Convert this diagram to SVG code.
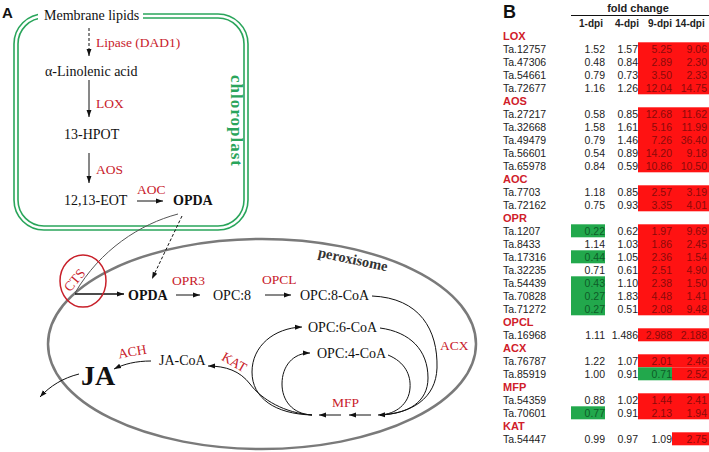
<svg xmlns="http://www.w3.org/2000/svg" width="709" height="452" viewBox="0 0 709 452">
<style>
.s{font-family:"Liberation Serif","DejaVu Serif",serif;fill:#111;font-size:14px}
.r{font-family:"Liberation Serif","DejaVu Serif",serif;fill:#c8202a;font-size:13.5px}
.b{font-weight:bold}
.ln{fill:none;stroke:#111;stroke-width:1}
.t{font-family:"Liberation Sans",Arial,sans-serif;font-size:10.5px;fill:#222}
.v{font-family:"Liberation Sans",Arial,sans-serif;font-size:10.5px;fill:#222;text-anchor:end}
.vr{fill:#8b0a0a}
.vg{fill:#0e5c28}
.h{font-family:"Liberation Sans",Arial,sans-serif;font-size:11px;font-weight:bold;fill:#d0202a}
.ch{font-family:"Liberation Sans",Arial,sans-serif;font-size:10px;font-weight:bold;fill:#222;text-anchor:middle}
.red{fill:#ff1212}
.grn{fill:#22a84c}
</style>
<defs>
<marker id="ah" viewBox="0 0 10 10" refX="10" refY="5" markerWidth="7" markerHeight="7" orient="auto" markerUnits="userSpaceOnUse"><path d="M0,1.5 L10,5 L0,8.5 z" fill="#111"/></marker>
</defs>
<rect width="709" height="452" fill="#fff"/>

<!-- Panel A -->
<text x="2" y="18" style="font-family:'Liberation Sans',Arial,sans-serif;font-weight:bold;font-size:15px;fill:#111">A</text>

<g id="chloroplast">
<rect x="14" y="14" width="234" height="216" rx="30" fill="none" stroke="#2aa55b" stroke-width="1.6"/>
<rect x="18" y="18" width="226" height="208" rx="26" fill="none" stroke="#2aa55b" stroke-width="1.6"/>
<rect x="38" y="6" width="105" height="18" fill="#fff"/>
<text transform="translate(231,121) rotate(90)" text-anchor="middle" style="font-family:'Liberation Serif','DejaVu Serif',serif;font-weight:bold;font-size:17px;letter-spacing:1px;fill:#2aa55b">chloroplast</text>
</g>

<g id="peroxisome">
<ellipse cx="262" cy="344" rx="214" ry="105" fill="none" stroke="#7a7a7a" stroke-width="2.5"/>
<text transform="translate(352,264) rotate(12)" text-anchor="middle" style="font-family:'Liberation Serif','DejaVu Serif',serif;font-weight:bold;font-size:14.5px;fill:#333">peroxisome</text>
</g>

<g id="connectors">
<path class="ln" d="M89,28 L89,56" stroke-dasharray="3,2" marker-end="url(#ah)"/>
<path class="ln" d="M89,80 L89,117" marker-end="url(#ah)"/>
<path class="ln" d="M89,153 L89,183" marker-end="url(#ah)"/>
<path class="ln" d="M137,201 L163,201" marker-end="url(#ah)"/>
<path d="M178,214 C140,224 100,250 75,293" fill="none" stroke="#555" stroke-width="1"/>
<path class="ln" d="M182,216 L152,279" stroke-dasharray="3,2" marker-end="url(#ah)"/>
<path class="ln" d="M75,294 L124,294" style="stroke-width:1.5" marker-end="url(#ah)"/>
<path class="ln" d="M176,295 L200,295" marker-end="url(#ah)"/>
<path class="ln" d="M265,295 L291,295" marker-end="url(#ah)"/>
<path class="ln" d="M372,296 C420,298 438,330 437,368 C436,398 412,414 378,415" marker-end="url(#ah)"/>
<path class="ln" d="M380,328 C410,332 428,350 428,378 C428,402 408,414 380,415"/>
<path class="ln" d="M388,355 C405,362 411,375 410,388 C409,404 396,414 380,415"/>
<path class="ln" d="M371,415 L349,415" marker-end="url(#ah)"/>
<path class="ln" d="M341,415 L319,415" marker-end="url(#ah)"/>
<path class="ln" d="M312,415 C275,414 252,398 252,372 C252,346 274,328 302,327" marker-end="url(#ah)"/>
<path class="ln" d="M312,415 C292,414 282,400 282,384 C282,366 293,353 310,353" marker-end="url(#ah)"/>
<path class="ln" d="M312,415 C285,413 262,400 250,384 C240,371 226,366 208,366" marker-end="url(#ah)"/>
<path class="ln" d="M151,361 C136,361 124,364 114,369" marker-end="url(#ah)"/>
<path class="ln" d="M79,374 C63,378 50,386 40,397" marker-end="url(#ah)"/>
</g>

<g id="membrane-lipids"><text class="s" x="44" y="20">Membrane lipids</text></g>
<g id="lipase"><text class="r" x="96" y="47">Lipase (DAD1)</text></g>
<g id="linolenic"><text class="s" x="45" y="76">α-Linolenic acid</text></g>
<g id="lox"><text class="r" x="96" y="108">LOX</text></g>
<g id="hpot"><text class="s" x="64" y="139">13-HPOT</text></g>
<g id="aos"><text class="r" x="96" y="174">AOS</text></g>
<g id="eot"><text class="s" x="64" y="205">12,13-EOT</text></g>
<g id="aoc"><text class="r" x="137" y="194">AOC</text></g>
<g id="opda1"><text class="s b" x="173" y="205">OPDA</text></g>

<g id="cts">
<ellipse cx="83" cy="281" rx="23" ry="26" fill="none" stroke="#c8202a" stroke-width="1.5"/>
<text class="r" transform="translate(78,283) rotate(-50)" text-anchor="middle">CTS</text>
</g>
<g id="opda2"><text class="s b" x="128" y="300">OPDA</text></g>
<g id="opr3"><text class="r" x="172" y="285">OPR3</text></g>
<g id="opc8"><text class="s" x="213" y="300">OPC:8</text></g>
<g id="opcl"><text class="r" x="262" y="284">OPCL</text></g>
<g id="opc8coa"><text class="s" x="300" y="300">OPC:8-CoA</text></g>
<g id="opc6coa"><text class="s" x="308" y="332">OPC:6-CoA</text></g>
<g id="opc4coa"><text class="s" x="317" y="358">OPC:4-CoA</text></g>
<g id="acx"><text class="r" x="440" y="350">ACX</text></g>
<g id="mfp"><text class="r" x="332" y="407">MFP</text></g>
<g id="kat"><text class="r" transform="translate(232,366) rotate(30)" text-anchor="middle">KAT</text></g>
<g id="jacoa"><text class="s" x="159" y="365">JA-CoA</text></g>
<g id="ach"><text class="r" transform="translate(133,356) rotate(-10)" text-anchor="middle">ACH</text></g>
<g id="ja"><text class="s b" x="81" y="385" style="font-size:28px">JA</text></g>

<!-- Panel B -->
<g id="table">
<text x="503" y="18" style="font-family:'Liberation Sans',Arial,sans-serif;font-weight:bold;font-size:18px;fill:#111">B</text>
<text x="638" y="12" text-anchor="middle" style="font-family:'Liberation Sans',Arial,sans-serif;font-weight:bold;font-size:11px;fill:#222">fold change</text>
<line x1="571" y1="15.5" x2="709" y2="15.5" stroke="#111" stroke-width="1.2"/>
<text class="ch" x="591" y="27">1-dpi</text>
<text class="ch" x="627" y="27">4-dpi</text>
<text class="ch" x="660" y="27">9-dpi</text>
<text class="ch" x="690" y="27">14-dpi</text>

<rect class="red" x="638" y="42.3" width="71" height="52"/>
<rect class="red" x="638" y="107.3" width="71" height="65"/>
<rect class="red" x="638" y="185.3" width="71" height="26"/>
<rect class="red" x="638" y="224.3" width="71" height="91"/>
<rect class="red" x="638" y="328.3" width="71" height="13"/>
<rect class="red" x="638" y="354.3" width="71" height="13"/>
<rect class="red" x="672" y="367.3" width="37" height="13"/>
<rect class="red" x="638" y="393.3" width="71" height="26"/>
<rect class="red" x="672" y="432.3" width="37" height="13"/>
<rect class="grn" x="571" y="224.3" width="34" height="13"/>
<rect class="grn" x="571" y="250.3" width="34" height="13"/>
<rect class="grn" x="571" y="276.3" width="34" height="39"/>
<rect class="grn" x="571" y="406.3" width="34" height="13"/>
<rect class="grn" x="638" y="367.3" width="34" height="13"/>

<text class="h" x="503" y="39.8">LOX</text>
<text class="t" x="503" y="52.6">Ta.12757</text><text class="v" x="605" y="52.6">1.52</text><text class="v" x="638" y="52.6">1.57</text><text class="v vr" x="672" y="52.6">5.25</text><text class="v vr" x="707" y="52.6">9.06</text>
<text class="t" x="503" y="65.6">Ta.47306</text><text class="v" x="605" y="65.6">0.48</text><text class="v" x="638" y="65.6">0.84</text><text class="v vr" x="672" y="65.6">2.89</text><text class="v vr" x="707" y="65.6">2.30</text>
<text class="t" x="503" y="78.6">Ta.54661</text><text class="v" x="605" y="78.6">0.79</text><text class="v" x="638" y="78.6">0.73</text><text class="v vr" x="672" y="78.6">3.50</text><text class="v vr" x="707" y="78.6">2.33</text>
<text class="t" x="503" y="91.6">Ta.72677</text><text class="v" x="605" y="91.6">1.16</text><text class="v" x="638" y="91.6">1.26</text><text class="v vr" x="672" y="91.6">12.04</text><text class="v vr" x="707" y="91.6">14.75</text>
<text class="h" x="503" y="104.8">AOS</text>
<text class="t" x="503" y="117.6">Ta.27217</text><text class="v" x="605" y="117.6">0.58</text><text class="v" x="638" y="117.6">0.85</text><text class="v vr" x="672" y="117.6">12.68</text><text class="v vr" x="707" y="117.6">11.62</text>
<text class="t" x="503" y="130.6">Ta.32668</text><text class="v" x="605" y="130.6">1.58</text><text class="v" x="638" y="130.6">1.61</text><text class="v vr" x="672" y="130.6">5.16</text><text class="v vr" x="707" y="130.6">11.99</text>
<text class="t" x="503" y="143.6">Ta.49479</text><text class="v" x="605" y="143.6">0.79</text><text class="v" x="638" y="143.6">1.46</text><text class="v vr" x="672" y="143.6">7.26</text><text class="v vr" x="707" y="143.6">36.40</text>
<text class="t" x="503" y="156.6">Ta.56601</text><text class="v" x="605" y="156.6">0.54</text><text class="v" x="638" y="156.6">0.89</text><text class="v vr" x="672" y="156.6">14.20</text><text class="v vr" x="707" y="156.6">9.18</text>
<text class="t" x="503" y="169.6">Ta.65978</text><text class="v" x="605" y="169.6">0.84</text><text class="v" x="638" y="169.6">0.59</text><text class="v vr" x="672" y="169.6">10.86</text><text class="v vr" x="707" y="169.6">10.50</text>
<text class="h" x="503" y="182.8">AOC</text>
<text class="t" x="503" y="195.6">Ta.7703</text><text class="v" x="605" y="195.6">1.18</text><text class="v" x="638" y="195.6">0.85</text><text class="v vr" x="672" y="195.6">2.57</text><text class="v vr" x="707" y="195.6">3.19</text>
<text class="t" x="503" y="208.6">Ta.72162</text><text class="v" x="605" y="208.6">0.75</text><text class="v" x="638" y="208.6">0.93</text><text class="v vr" x="672" y="208.6">3.35</text><text class="v vr" x="707" y="208.6">4.01</text>
<text class="h" x="503" y="221.8">OPR</text>
<text class="t" x="503" y="234.6">Ta.1207</text><text class="v vg" x="605" y="234.6">0.22</text><text class="v" x="638" y="234.6">0.62</text><text class="v vr" x="672" y="234.6">1.97</text><text class="v vr" x="707" y="234.6">9.69</text>
<text class="t" x="503" y="247.6">Ta.8433</text><text class="v" x="605" y="247.6">1.14</text><text class="v" x="638" y="247.6">1.03</text><text class="v vr" x="672" y="247.6">1.86</text><text class="v vr" x="707" y="247.6">2.45</text>
<text class="t" x="503" y="260.6">Ta.17316</text><text class="v vg" x="605" y="260.6">0.44</text><text class="v" x="638" y="260.6">1.05</text><text class="v vr" x="672" y="260.6">2.36</text><text class="v vr" x="707" y="260.6">1.54</text>
<text class="t" x="503" y="273.6">Ta.32235</text><text class="v" x="605" y="273.6">0.71</text><text class="v" x="638" y="273.6">0.61</text><text class="v vr" x="672" y="273.6">2.51</text><text class="v vr" x="707" y="273.6">4.90</text>
<text class="t" x="503" y="286.6">Ta.54439</text><text class="v vg" x="605" y="286.6">0.43</text><text class="v" x="638" y="286.6">1.10</text><text class="v vr" x="672" y="286.6">2.38</text><text class="v vr" x="707" y="286.6">1.50</text>
<text class="t" x="503" y="299.6">Ta.70828</text><text class="v vg" x="605" y="299.6">0.27</text><text class="v" x="638" y="299.6">1.83</text><text class="v vr" x="672" y="299.6">4.48</text><text class="v vr" x="707" y="299.6">1.41</text>
<text class="t" x="503" y="312.6">Ta.71272</text><text class="v vg" x="605" y="312.6">0.27</text><text class="v" x="638" y="312.6">0.51</text><text class="v vr" x="672" y="312.6">2.08</text><text class="v vr" x="707" y="312.6">9.48</text>
<text class="h" x="503" y="325.8">OPCL</text>
<text class="t" x="503" y="338.6">Ta.16968</text><text class="v" x="605" y="338.6">1.11</text><text class="v" x="638" y="338.6">1.486</text><text class="v vr" x="672" y="338.6">2.988</text><text class="v vr" x="707" y="338.6">2.188</text>
<text class="h" x="503" y="351.8">ACX</text>
<text class="t" x="503" y="364.6">Ta.76787</text><text class="v" x="605" y="364.6">1.22</text><text class="v" x="638" y="364.6">1.07</text><text class="v vr" x="672" y="364.6">2.01</text><text class="v vr" x="707" y="364.6">2.46</text>
<text class="t" x="503" y="377.6">Ta.85919</text><text class="v" x="605" y="377.6">1.00</text><text class="v" x="638" y="377.6">0.91</text><text class="v vg" x="672" y="377.6">0.71</text><text class="v vr" x="707" y="377.6">2.52</text>
<text class="h" x="503" y="390.8">MFP</text>
<text class="t" x="503" y="403.6">Ta.54359</text><text class="v" x="605" y="403.6">0.88</text><text class="v" x="638" y="403.6">1.02</text><text class="v vr" x="672" y="403.6">1.44</text><text class="v vr" x="707" y="403.6">2.41</text>
<text class="t" x="503" y="416.6">Ta.70601</text><text class="v vg" x="605" y="416.6">0.77</text><text class="v" x="638" y="416.6">0.91</text><text class="v vr" x="672" y="416.6">2.13</text><text class="v vr" x="707" y="416.6">1.94</text>
<text class="h" x="503" y="429.8">KAT</text>
<text class="t" x="503" y="442.6">Ta.54447</text><text class="v" x="605" y="442.6">0.99</text><text class="v" x="638" y="442.6">0.97</text><text class="v" x="672" y="442.6">1.09</text><text class="v vr" x="707" y="442.6">2.75</text>
</g>
</svg>
